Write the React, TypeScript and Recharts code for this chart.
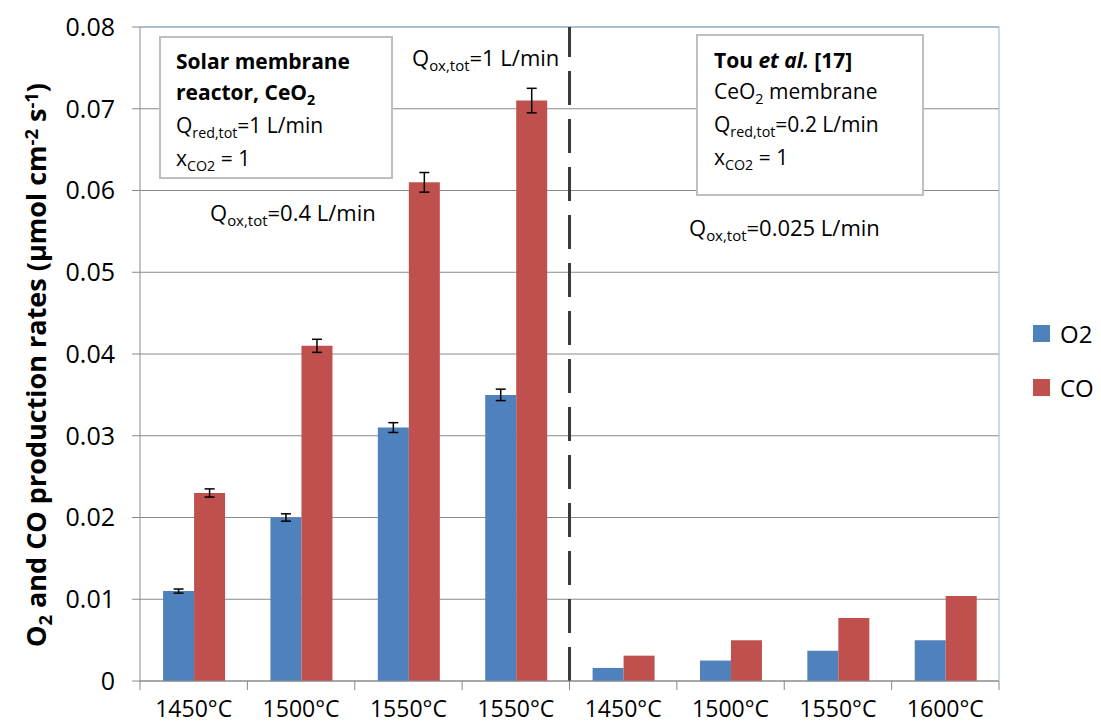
import React from 'react';
import {
  BarChart,
  Bar,
  XAxis,
  YAxis,
  CartesianGrid,
  ErrorBar,
  ReferenceLine,
  Legend,
} from 'recharts';

// temperatures on the x axis (left: this work, right: Tou et al.)
const categories = ['1450°C', '1500°C', '1550°C', '1550°C', '1450°C', '1500°C', '1550°C', '1600°C'];
const seriesNames = ['O2', 'CO'];
const o2Rates = [0.011, 0.02, 0.031, 0.035, 0.0016, 0.0025, 0.0037, 0.005];
const coRates = [0.023, 0.041, 0.061, 0.071, 0.0031, 0.005, 0.0077, 0.0104];
const o2Errors = [0.00025, 0.00045, 0.0006, 0.0007, null, null, null, null];
const coErrors = [0.0005, 0.0008, 0.0012, 0.0015, null, null, null, null];
const yTicks = [0, 0.01, 0.02, 0.03, 0.04, 0.05, 0.06, 0.07, 0.08];

const data = categories.map((label, i) => ({
  id: String(i),
  label,
  O2: o2Rates[i],
  CO: coRates[i],
  o2Err: o2Errors[i],
  coErr: coErrors[i],
}));

const W = 1101;
const H = 725;
const PLOT_LEFT = 140;
const PLOT_RIGHT = 999;
const PLOT_TOP = 27;
const PLOT_BOTTOM = 681;
const HALF_BAND = (PLOT_RIGHT - PLOT_LEFT) / categories.length / 2;

const FONT = '"Open Sans", sans-serif';
const GRAY = '#8a8a8a';
const FRAME_BLUE = '#95b3d7';
const BLUE = '#4f81bd';
const RED = '#c0504d';

const Sub = ({ children }: { children: React.ReactNode }) => (
  <span style={{ fontSize: '0.68em', position: 'relative', top: '0.35em' }}>{children}</span>
);
const Sup = ({ children }: { children: React.ReactNode }) => (
  <span style={{ fontSize: '0.68em', position: 'relative', top: '-0.45em' }}>{children}</span>
);

function CategoryTick(props: any) {
  const { x, y, payload } = props;
  const i = Number(payload.value);
  const axisY = y - 20;
  return (
    <g>
      <line x1={x - HALF_BAND} x2={x - HALF_BAND} y1={axisY} y2={axisY + 9} stroke={GRAY} />
      {i === categories.length - 1 && (
        <line x1={x + HALF_BAND} x2={x + HALF_BAND} y1={axisY} y2={axisY + 9} stroke={GRAY} />
      )}
      <text x={x} y={y} dy="0.71em" textAnchor="middle" fontSize={23} fill="#000">
        {categories[i]}
      </text>
    </g>
  );
}

function LegendContent(props: any) {
  const items = [...(props.payload || [])].sort(
    (a: any, b: any) => seriesNames.indexOf(a.value) - seriesNames.indexOf(b.value)
  );
  return (
    <div>
      {items.map((p: any) => (
        <div key={p.value} style={{ display: 'flex', alignItems: 'center', height: 54 }}>
          <span style={{ width: 17, height: 17, background: p.color, marginRight: 10, display: 'inline-block' }} />
          <span style={{ fontSize: 24, color: '#000' }}>{p.value}</span>
        </div>
      ))}
    </div>
  );
}

const boxStyle: React.CSSProperties = {
  position: 'absolute',
  background: '#fff',
  border: '2px solid #bfbfbf',
  boxSizing: 'border-box',
  fontSize: 21,
  lineHeight: '31px',
  color: '#000',
  whiteSpace: 'nowrap',
};

const noteStyle: React.CSSProperties = {
  position: 'absolute',
  fontSize: 22,
  lineHeight: '30px',
  color: '#000',
  whiteSpace: 'nowrap',
};

export default function App() {
  return (
    <div style={{ position: 'relative', width: W, height: H, fontFamily: FONT, background: '#fff' }}>
      <style>{'body{margin:0}'}</style>
      <BarChart
        width={W}
        height={H}
        data={data}
        margin={{ top: PLOT_TOP, right: W - PLOT_RIGHT - 1, left: 0, bottom: 0 }}
        barCategoryGap="21.5%"
        barGap={0}
      >
        <CartesianGrid vertical={false} stroke={GRAY} />
        <XAxis
          dataKey="id"
          height={H - PLOT_BOTTOM}
          interval={0}
          tickSize={9}
          tickMargin={11}
          tickLine={false}
          axisLine={{ stroke: GRAY }}
          tick={<CategoryTick />}
        />
        <YAxis
          domain={[0, 0.08]}
          ticks={yTicks}
          width={PLOT_LEFT}
          tickSize={8}
          tickMargin={17}
          tickFormatter={(v: number) => (v === 0 ? '0' : v.toFixed(2))}
          tick={{ fontSize: 25, fill: '#000' }}
          axisLine={{ stroke: GRAY }}
          tickLine={{ stroke: GRAY }}
        />
        <YAxis
          yAxisId="frame"
          orientation="right"
          domain={[0, 0.08]}
          width={1}
          tick={false}
          tickLine={false}
          axisLine={{ stroke: FRAME_BLUE }}
        />
        <ReferenceLine y={0.08} stroke={FRAME_BLUE} />
        <Bar dataKey="O2" name="O2" fill={BLUE} isAnimationActive={false}>
          <ErrorBar dataKey="o2Err" width={5} stroke="#000" strokeWidth={1.5} />
        </Bar>
        <Bar dataKey="CO" name="CO" fill={RED} isAnimationActive={false}>
          <ErrorBar dataKey="coErr" width={5} stroke="#000" strokeWidth={1.5} />
        </Bar>
        <ReferenceLine
          x="4"
          position="start"
          stroke="#3a3a3a"
          strokeWidth={3}
          strokeDasharray="34 14"
        />
        <Legend
          layout="vertical"
          align="center"
          verticalAlign="middle"
          wrapperStyle={{ left: 1033, top: 306, width: 70 }}
          content={<LegendContent />}
        />
      </BarChart>

      {/* annotation boxes */}
      <div style={{ ...boxStyle, left: 159, top: 36, width: 234, height: 143, padding: '8px 0 0 15px' }}>
        <div style={{ fontWeight: 700 }}>Solar membrane</div>
        <div style={{ fontWeight: 700 }}>
          reactor, CeO<Sub>2</Sub>
        </div>
        <div>
          Q<Sub>red,tot</Sub>=1 L/min
        </div>
        <div>
          x<Sub>CO2</Sub> = 1
        </div>
      </div>
      <div style={{ ...boxStyle, left: 696, top: 34, width: 228, height: 162, padding: '9px 0 0 16px' }}>
        <div style={{ fontWeight: 700 }}>
          Tou <i>et al.</i> [17]
        </div>
        <div>
          CeO<Sub>2</Sub> membrane
        </div>
        <div>
          Q<Sub>red,tot</Sub>=0.2 L/min
        </div>
        <div>
          x<Sub>CO2</Sub> = 1
        </div>
      </div>

      <div style={{ ...noteStyle, left: 412, top: 42 }}>
        Q<Sub>ox,tot</Sub>=1 L/min
      </div>
      <div style={{ ...noteStyle, left: 210, top: 197 }}>
        Q<Sub>ox,tot</Sub>=0.4 L/min
      </div>
      <div style={{ ...noteStyle, left: 689, top: 212 }}>
        Q<Sub>ox,tot</Sub>=0.025 L/min
      </div>

      {/* y axis title */}
      <div
        style={{
          position: 'absolute',
          left: 36 - 330,
          top: 365 - 18,
          width: 660,
          height: 36,
          lineHeight: '36px',
          textAlign: 'center',
          transform: 'rotate(-90deg)',
          fontSize: 27,
          fontWeight: 700,
          color: '#000',
          whiteSpace: 'nowrap',
        }}
      >
        O<Sub>2</Sub> and CO production rates (µmol cm<Sup>-2</Sup> s<Sup>-1</Sup>)
      </div>
    </div>
  );
}
